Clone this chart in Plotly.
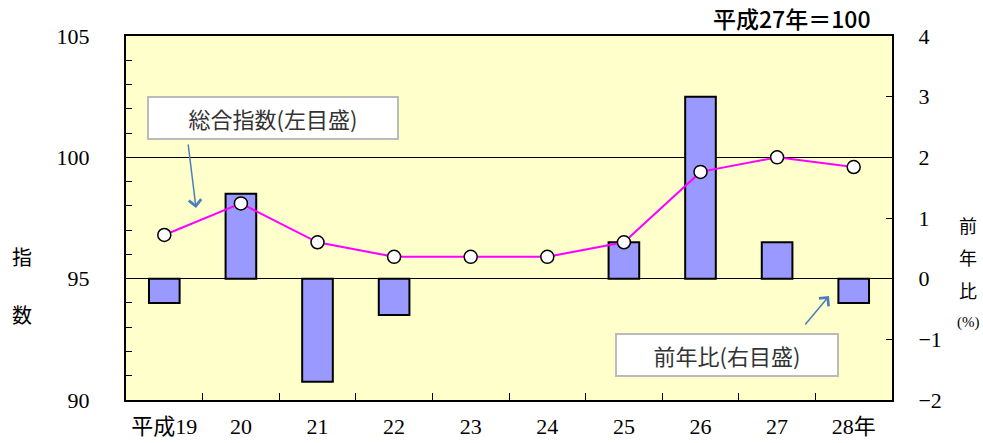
import plotly.graph_objects as go

years = ["平成19", "20", "21", "22", "23", "24", "25", "26", "27", "28年"]
index_vals = [96.8, 98.1, 96.5, 95.9, 95.9, 95.9, 96.5, 99.4, 100.0, 99.6]
yoy_vals = [-0.4, 1.4, -1.7, -0.6, 0.0, 0.0, 0.6, 3.0, 0.6, -0.4]

W, H = 983, 443
L, R, T, B = 126, 892, 36, 400


def px(x):
    return (x - L) / (R - L)


def py(y):
    return (B - y) / (B - T)


serif = "Liberation Serif, Noto Sans CJK JP, serif"
cjk = "Noto Sans CJK JP, sans-serif"

fig = go.Figure()
fig.add_trace(go.Bar(
    x=years, y=yoy_vals, yaxis="y", width=0.4,
    marker=dict(color="#9999FF",
                line=dict(color="black", width=[0 if v == 0 else 2 for v in yoy_vals])),
    showlegend=False,
))
fig.add_trace(go.Scatter(
    x=years, y=index_vals, yaxis="y2", mode="lines+markers",
    line=dict(color="#FF00FF", width=2),
    marker=dict(size=13, color="white", line=dict(color="black", width=1.5)),
    showlegend=False,
))

fig.update_layout(
    width=W, height=H,
    margin=dict(l=L, r=W - R, t=T, b=H - B, autoexpand=False),
    paper_bgcolor="white", plot_bgcolor="#FFFFCC",
    xaxis=dict(
        type="category", range=[-0.5, len(years) - 0.5],
        showline=True, linecolor="black", linewidth=2, mirror=True,
        ticks="inside", tickson="boundaries", ticklen=7, tickcolor="black",
        showgrid=False, tickfont=dict(family=serif, size=22, color="black"),
        tickangle=0, ticklabelstandoff=6, automargin=False,
    ),
    yaxis=dict(
        side="right", range=[-2, 4], showgrid=False, zeroline=False,
        showline=True, linecolor="black", linewidth=2,
        ticks="inside", ticklen=6, tickcolor="black",
        tickfont=dict(family=serif, size=22, color="black"),
        tickvals=[-2, -1, 0, 1, 2, 3, 4],
        ticktext=["−2", "−1", "0", "1", "2", "3", "4"],
        ticklabelstandoff=20, automargin=False,
    ),
    yaxis2=dict(
        side="left", overlaying="y", range=[90, 105],
        tickvals=[90, 95, 100, 105],
        showgrid=True, gridcolor="black", gridwidth=1, zeroline=False,
        showline=True, linecolor="black", linewidth=2,
        ticks="inside", ticklen=6, tickcolor="black",
        minor=dict(dtick=1, ticks="inside", ticklen=6, tickcolor="black", showgrid=False),
        tickfont=dict(family=serif, size=22, color="black"),
        ticklabelstandoff=30, automargin=False,
    ),
)


def txt(x, y, s, size=18, family=cjk, color="black", **kw):
    d = dict(x=px(x), y=py(y), xref="paper", yref="paper", text=s,
             xanchor="center", yanchor="middle", showarrow=False,
             font=dict(family=family, size=size, color=color))
    d.update(kw)
    return d


ann = [
    txt(792, 18, "平成27年＝100", size=23, weight=500),
    txt(273, 118, "総合指数(左目盛)", size=22, color="#333333",
        bgcolor="white", bordercolor="#BBBBBB", borderwidth=2, borderpad=5,
        width=238, height=30),
    txt(727, 355, "前年比(右目盛)", size=22, color="#333333",
        bgcolor="white", bordercolor="#BBBBBB", borderwidth=2, borderpad=5,
        width=210, height=30),
    dict(x=px(196), y=py(208), xref="paper", yref="paper", text="",
         showarrow=True, ax=-8, ay=-65, arrowcolor="#4A7EBB", arrowwidth=1.5,
         arrowhead=4, arrowsize=1.6),
    dict(x=px(829), y=py(296), xref="paper", yref="paper", text="",
         showarrow=True, ax=-25, ay=30, arrowcolor="#4A7EBB", arrowwidth=1.5,
         arrowhead=4, arrowsize=1.6),
    txt(22, 256, "指", size=20),
    txt(22, 314, "数", size=20),
    txt(968, 225, "前", size=18),
    txt(968, 257, "年", size=18),
    txt(968, 290, "比", size=18),
    txt(968, 322, "(%)", size=15, family=serif),
]
for a in ann:
    if "weight" in a:
        a["font"]["weight"] = a.pop("weight")
fig.update_layout(annotations=ann)

fig.write_html(
    "out.html",
    config={"displayModeBar": False},
    post_script="document.body.style.margin='0';document.body.style.overflow='hidden';",
)
